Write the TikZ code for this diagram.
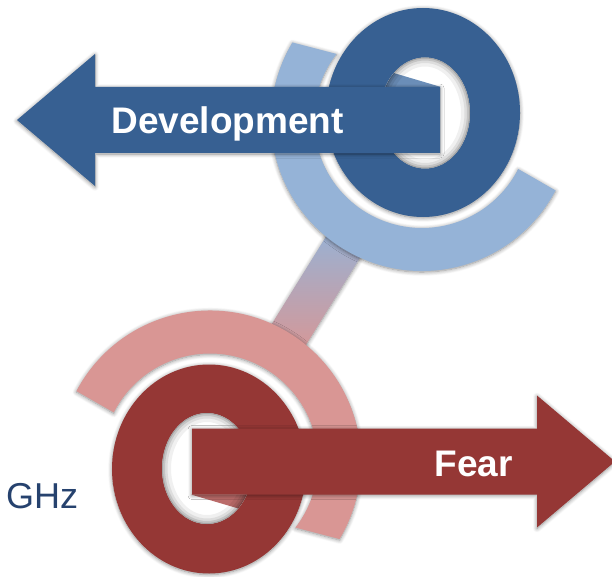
\documentclass[tikz,border=0pt]{standalone}
\usepackage{fontspec}
\setmainfont{Liberation Sans}
\usetikzlibrary{calc,shadows.blur}

\definecolor{devblue}{HTML}{376092}
\definecolor{devlight}{HTML}{95B3D7}
\definecolor{fearred}{HTML}{953735}
\definecolor{fearlight}{HTML}{D99694}
\definecolor{ghzblue}{HTML}{26426E}

\tikzset{
  soft/.style={blur shadow={shadow xshift=0pt,shadow yshift=-1pt,
      shadow blur radius=4pt,shadow blur steps=8,shadow opacity=45}},
  arrowlabel/.style={text=white,font=\fontsize{37}{40}\selectfont\bfseries,anchor=base},
}

\begin{document}
\begin{tikzpicture}[x=1pt,y=-1pt]
  \useasboundingbox (0,0) rectangle (612,577);

  % centres of the two open rings
  \coordinate (devc) at (422,120);
  \coordinate (fearc) at (210,461.5);

  % bar joining the rings
  \coordinate (bartop) at ($(devc)!135pt!(fearc)$);
  \coordinate (barbot) at ($(fearc)!135pt!(devc)$);
  \shade[soft,top color=devlight,bottom color=fearlight]
    ($(bartop)!20pt!90:(barbot)$) -- ($(bartop)!20pt!-90:(barbot)$)
    -- ($(barbot)!20pt!90:(bartop)$) -- ($(barbot)!20pt!-90:(bartop)$) -- cycle;

  % ring, ring hole and arrow; the second copy is turned half round
  \foreach \ang/\dark/\light in {0/devblue/devlight,180/fearred/fearlight}{
    \begin{scope}[rotate around={\ang:(316,290.75)}]
      % open outer ring
      \fill[soft,\light] (422,120) ++(27.8:151) arc[start angle=27.8,end angle=210.9,radius=151]
        -- ($(422,120)+(217.7:108)$) arc[start angle=217.7,end angle=27,radius=108] -- cycle;
      % closed inner ring
      \fill[soft,\dark,even odd rule] (423,112.5) ellipse[x radius=97,y radius=104.5]
        (425,113) ellipse[x radius=45,y radius=55.5];
      \begin{scope}
        \clip (425,113) ellipse[x radius=45,y radius=55.5];
        \fill[white] (425,113) ellipse[x radius=46,y radius=56.5];
        \fill[\light!55!\dark] (370,66) -- (441,87) -- (370,87) -- cycle;
        \foreach \w/\o in {18/0.06,11/0.08,6/0.11,2/0.16}
          \draw[black,opacity=\o,line width=\w] (425,113) ellipse[x radius=45,y radius=55.5];
      \end{scope}
      % arrow
      \fill[soft,\dark] (17,120) -- (95,54) -- (95,87) -- (440,87) -- (440,153)
        -- (95,153) -- (95,186) -- cycle;
    \end{scope}
  }

  \node[arrowlabel] (dev) at (227.5,134) {Development};
  \node[arrowlabel] (fear) at (473.5,476) {Fear};
  \node[anchor=base west,inner sep=0pt,text=ghzblue,font=\fontsize{36}{40}\selectfont] (ghz) at (6,508.5) {GHz};
\end{tikzpicture}
\end{document}
